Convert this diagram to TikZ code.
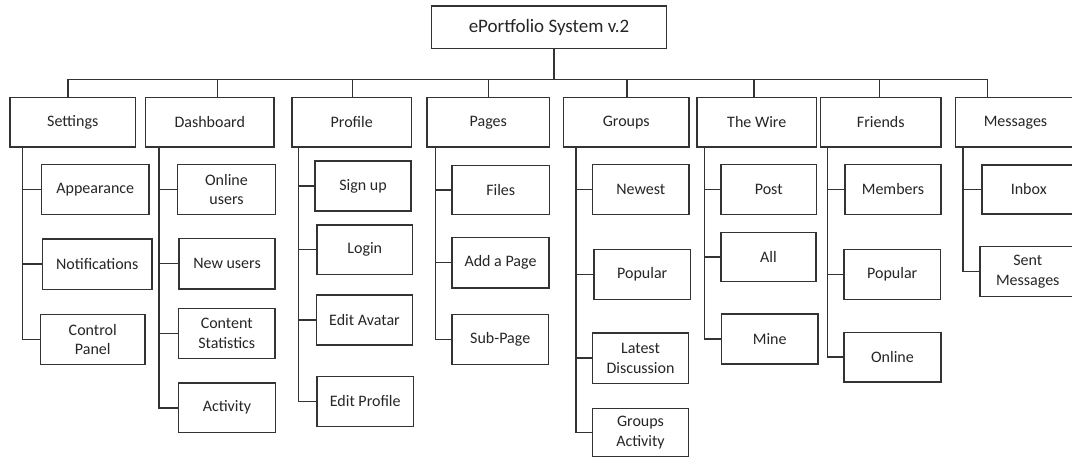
\documentclass[tikz,border=0pt]{standalone}
\usepackage{fontspec}
\setmainfont{Carlito}
\begin{document}
\begin{tikzpicture}[x=1pt,y=-1pt,
  box/.style={draw=black!80, line width=1.5pt, fill=white, inner sep=0pt, outer sep=0pt,
    align=center, text=black!85, font=\fontsize{16}{19.5}\selectfont},
  link/.style={draw=black!80, line width=1.5pt}]
\useasboundingbox (0,0) rectangle (1072,457);
% box given by its corners: name, x1, y1, x2, y2, text
\newcommand\bx[6]{\node[box, minimum width={(#4)-(#2)}, minimum height={(#5)-(#3)}]
  (#1) at ({((#2)+(#4))/2},{((#3)+(#5))/2}) {#6};}

% root
\bx{root}{431.5}{6}{666.5}{48.5}{\fontsize{19}{22}\selectfont ePortfolio System v.2}

% first level
\bx{settings}{10}{97.5}{135.5}{147}{Settings}
\bx{dash}{145.5}{97.5}{274}{147}{Dashboard}
\bx{profile}{292}{97.5}{411.5}{147}{Profile}
\bx{pages}{427}{97.5}{549.5}{147}{Pages}
\bx{groups}{563.5}{97.5}{689}{147}{Groups}
\bx{wire}{697}{97.5}{816.5}{147}{The Wire}
\bx{friends}{820.5}{97.5}{941}{147}{Friends}
\bx{messages}{955.5}{97.5}{1075.5}{147}{Messages}

% Settings
\bx{app}{41.5}{164.5}{149}{214.5}{Appearance}
\bx{notif}{42.5}{239}{152}{289.5}{Notifications}
\bx{ctrl}{40.5}{314.5}{145}{364.5}{Control\\Panel}
% Dashboard
\bx{onl}{177.5}{164.5}{275.5}{214.5}{Online\\users}
\bx{newu}{179}{238.5}{275}{289}{New users}
\bx{cstat}{178.5}{308.5}{275}{358.5}{Content\\Statistics}
\bx{act}{178.5}{383}{275.5}{432.5}{Activity}
% Profile
\bx{sign}{315}{161}{411}{211}{Sign up}
\bx{login}{317}{225}{412.5}{274.5}{Login}
\bx{avatar}{316.5}{295}{412.5}{345}{Edit Avatar}
\bx{eprof}{317}{376.5}{413.5}{426.5}{Edit Profile}
% Pages
\bx{files}{452}{165.5}{549.5}{214.5}{Files}
\bx{addp}{452}{237.5}{549}{288}{Add a Page}
\bx{subp}{452}{314.5}{548.5}{364.5}{Sub-Page}
% Groups
\bx{newest}{592.5}{164.5}{689}{214.5}{Newest}
\bx{gpop}{594}{249.5}{690.5}{299.5}{Popular}
\bx{ldisc}{592.5}{333}{688.5}{383.5}{Latest\\Discussion}
\bx{gact}{592.5}{408.5}{688.5}{456.5}{Groups\\Activity}
% The Wire
\bx{post}{721}{164.5}{816.5}{214.5}{Post}
\bx{all}{721}{232.5}{816}{281.5}{All}
\bx{mine}{721.5}{314}{818}{364}{Mine}
% Friends
\bx{memb}{845}{164.5}{941}{214.5}{Members}
\bx{fpop}{844}{249.5}{940.5}{299.5}{Popular}
\bx{online}{844}{332.5}{941}{382}{Online}
% Messages
\bx{inbox}{982}{165}{1075.5}{214}{Inbox}
\bx{sent}{980}{246.5}{1075.5}{296.5}{Sent\\Messages}

% bus from the root to the first level
\coordinate (hub) at (554,79.3);
\draw[link] (root.south -| hub) -- (hub);
\draw[link] ([xshift=-4.75]settings.north) |- (hub);
\draw[link] ([xshift=7.75]dash.north) |- (hub);
\draw[link] ([xshift=0.75]profile.north) |- (hub);
\draw[link] (pages.north) |- (hub);
\draw[link] ([xshift=0.75]groups.north) |- (hub);
\draw[link] ([xshift=-2.75]wire.north) |- (hub);
\draw[link] ([xshift=-1.25]friends.north) |- (hub);
\draw[link] ([xshift=-28]messages.north) |- (hub);

% spines down to the second level
\foreach \c in {app,notif,ctrl}
  \draw[link] ([xshift=12.5]settings.south west) |- (\c.west);
\foreach \c in {onl,newu,cstat,act}
  \draw[link] ([xshift=13.5]dash.south west) |- (\c.west);
\foreach \c in {sign,login,avatar,eprof}
  \draw[link] ([xshift=6.5]profile.south west) |- (\c.west);
\foreach \c in {files,addp,subp}
  \draw[link] ([xshift=8.5]pages.south west) |- (\c.west);
\foreach \c in {newest,gpop,ldisc,gact}
  \draw[link] ([xshift=12.5]groups.south west) |- (\c.west);
\foreach \c in {post,all,mine}
  \draw[link] ([xshift=7.5]wire.south west) |- (\c.west);
\foreach \c in {memb,fpop,online}
  \draw[link] ([xshift=7]friends.south west) |- (\c.west);
\foreach \c in {inbox,sent}
  \draw[link] ([xshift=7.5]messages.south west) |- (\c.west);
\end{tikzpicture}
\end{document}
